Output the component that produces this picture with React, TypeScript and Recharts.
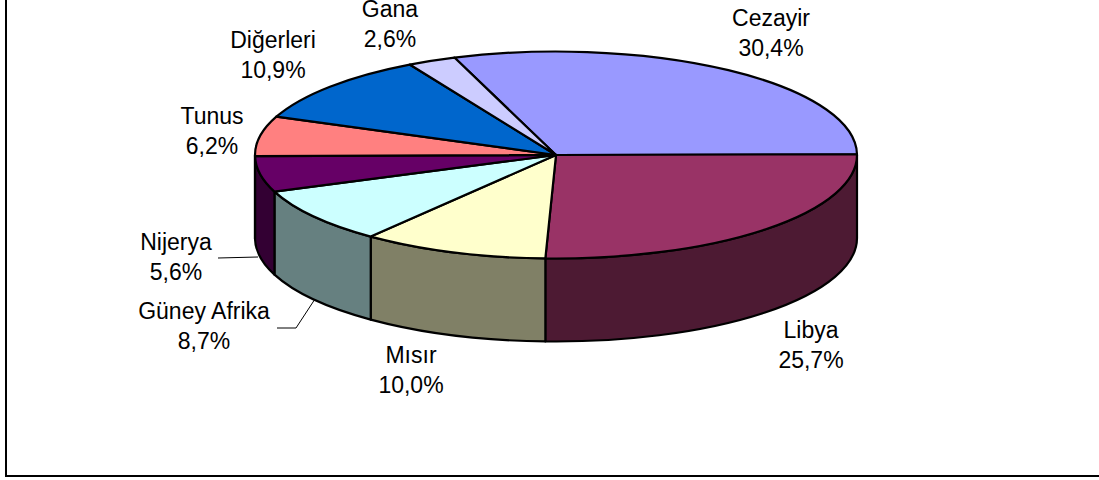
import React from "react";
import { PieChart, Pie, Cell } from "recharts";

const names = ["Cezayir", "Libya", "Mısır", "Güney Afrika", "Nijerya", "Tunus", "Diğerleri", "Gana"];
const shares = [30.4, 25.7, 10.0, 8.7, 5.6, 6.2, 10.9, 2.6];
const topColors = ["#9999FF", "#993366", "#FFFFCC", "#CCFFFF", "#660066", "#FF8080", "#0066CC", "#CCCCFF"];
const wallColors = ["#4D4D80", "#4D1A33", "#808066", "#668080", "#330033", "#330033", "#003366", "#666680"];

const labelCenterX = [771, 811, 411, 204, 176, 212, 273, 390];
const labelBaseline = [26, 338, 363, 319, 250, 124, 48, 17];
const leaderLines: Record<number, string> = {
  3: "277,328 296,328 315,299",
  4: "218,258 258,257",
};

const W = 1099;
const H = 480;
const CX = 556;
const CY = 155;
const RX = 301;
const RY = 103.5;
const DEPTH = 83;
const FONT = 23;
const LINE = 30;
const TILT = 0.4;

const tableData = names.map((name, i) => ({ name, value: shares[i], wall: wallColors[i] }));
const total = shares.reduce((a, b) => a + b, 0);
const START = (360 * shares[0]) / total + TILT;

const rad = Math.PI / 180;
const px = (cx: number, rx: number, a: number) => cx + rx * Math.cos(a * rad);
const py = (cy: number, ry: number, a: number) => cy - ry * Math.sin(a * rad);

function Slice3D(props: any) {
  const { cx, cy, outerRadius, startAngle, endAngle, fill, wall } = props;
  const rx = outerRadius;
  const ry = (outerRadius * RY) / RX;
  const s = startAngle;
  const e = endAngle;
  const large = Math.abs(s - e) > 180 ? 1 : 0;
  const top = `M${cx},${cy} L${px(cx, rx, s)},${py(cy, ry, s)} A${rx},${ry} 0 ${large} 1 ${px(cx, rx, e)},${py(cy, ry, e)} Z`;
  const ws = Math.min(s, 0);
  const we = Math.max(e, -180);
  let side: string | null = null;
  if (ws > we) {
    const x1 = px(cx, rx, ws);
    const y1 = py(cy, ry, ws);
    const x2 = px(cx, rx, we);
    const y2 = py(cy, ry, we);
    side = `M${x1},${y1} A${rx},${ry} 0 0 1 ${x2},${y2} L${x2},${y2 + DEPTH} A${rx},${ry} 0 0 0 ${x1},${y1 + DEPTH} Z`;
  }
  return (
    <g>
      {side && <path d={side} fill={wall} stroke="#000" strokeWidth={2.2} strokeLinejoin="round" />}
      <path d={top} fill={fill} stroke="#000" strokeWidth={2.2} strokeLinejoin="round" />
    </g>
  );
}

function SliceLabel(props: any) {
  const i = props.index;
  const x = labelCenterX[i];
  const y = labelBaseline[i];
  return (
    <g>
      <text x={x} y={y} textAnchor="middle" fill="#000" fontFamily="Liberation Sans" fontSize={FONT}>
        {names[i]}
      </text>
      <text x={x} y={y + LINE} textAnchor="middle" fill="#000" fontFamily="Liberation Sans" fontSize={FONT}>
        {shares[i].toFixed(1).replace(".", ",") + "%"}
      </text>
      {leaderLines[i] && <polyline points={leaderLines[i]} fill="none" stroke="#000" strokeWidth={1} />}
    </g>
  );
}

export default function App() {
  return (
    <div style={{ position: "absolute", left: 0, top: 0, width: W, height: H, overflow: "hidden", background: "#fff" }}>
      <div
        style={{
          position: "absolute",
          left: 5,
          top: -4,
          width: W + 10,
          height: 481,
          borderLeft: "2px solid #000",
          borderBottom: "2px solid #000",
          borderTop: "2px solid #000",
          boxSizing: "border-box",
        }}
      />
      <div style={{ position: "absolute", left: 0, top: 0 }}>
        <PieChart width={W} height={H} margin={{ top: 0, right: 0, bottom: 0, left: 0 }}>
          <Pie
            data={tableData}
            dataKey="value"
            nameKey="name"
            cx={CX}
            cy={CY}
            innerRadius={0}
            outerRadius={RX}
            startAngle={START}
            endAngle={START - 360}
            paddingAngle={0}
            isAnimationActive={false}
            shape={Slice3D}
            label={SliceLabel}
            labelLine={false}
            stroke="#000"
          >
            {names.map((n, i) => (
              <Cell key={n} fill={topColors[i]} />
            ))}
          </Pie>
        </PieChart>
      </div>
    </div>
  );
}
